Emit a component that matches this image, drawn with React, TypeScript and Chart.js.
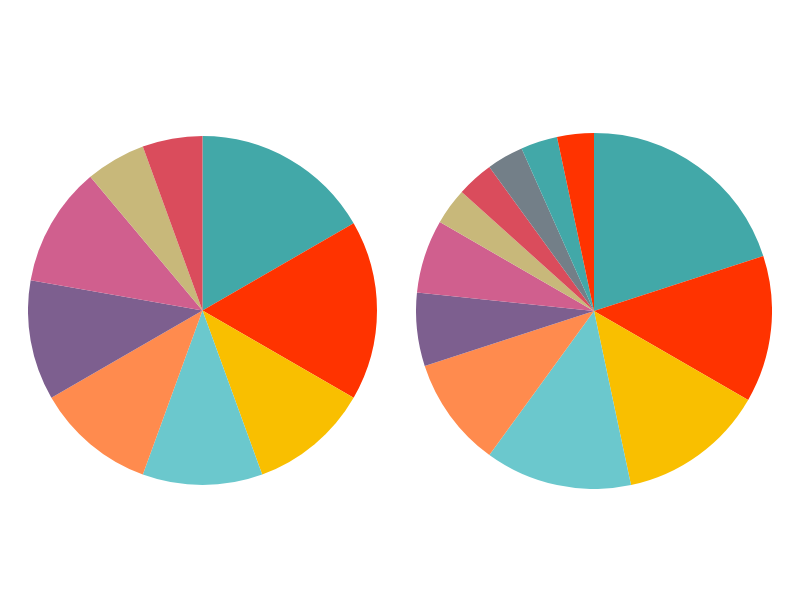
import React, { useEffect, useRef } from "react";
import { Chart, registerables } from "chart.js";

Chart.register(...registerables);

const leftCategories = ["A", "B", "C", "D", "E", "F", "G", "H", "I"];
const leftValues = [3, 3, 2, 2, 2, 2, 2, 1, 1];
const leftColors = ["#42a8a8", "#ff3300", "#f9bf00", "#6bc8cd", "#ff8b4e", "#7d5f8f", "#d05f8e", "#c8b87a", "#da4c5c"];

const rightCategories = ["A", "B", "C", "D", "E", "F", "G", "H", "I", "J", "K", "L"];
const rightValues = [6, 4, 4, 4, 3, 2, 2, 1, 1, 1, 1, 1];
const rightColors = ["#42a8a8", "#ff3300", "#f9bf00", "#6bc8cd", "#ff8b4e", "#7d5f8f", "#d05f8e", "#c8b87a", "#da4c5c", "#737f88", "#42a8a8", "#ff3300"];

function Pie(props: { labels: string[]; values: number[]; colors: string[]; left: number; top: number; size: number }) {
  const ref = useRef<HTMLCanvasElement | null>(null);
  useEffect(() => {
    if (!ref.current) return;
    const chart = new Chart(ref.current, {
      type: "pie",
      data: {
        labels: props.labels,
        datasets: [
          {
            data: props.values,
            backgroundColor: props.colors,
            borderColor: "#ffffff",
            borderWidth: 0,
          },
        ],
      },
      options: {
        animation: false,
        responsive: false,
        maintainAspectRatio: false,
        layout: { padding: 0 },
        plugins: { legend: { display: false }, tooltip: { enabled: false } },
      },
    });
    return () => chart.destroy();
  }, []);
  return (
    <div style={{ position: "absolute", left: props.left, top: props.top, width: props.size, height: props.size }}>
      <canvas ref={ref} width={props.size} height={props.size} style={{ width: props.size, height: props.size }} />
    </div>
  );
}

export default function App() {
  return (
    <div style={{ position: "fixed", left: 0, top: 0, width: 800, height: 600, background: "#ffffff" }}>
      <Pie labels={leftCategories} values={leftValues} colors={leftColors} left={28} top={136} size={349} />
      <Pie labels={rightCategories} values={rightValues} colors={rightColors} left={416} top={133} size={356} />
    </div>
  );
}
